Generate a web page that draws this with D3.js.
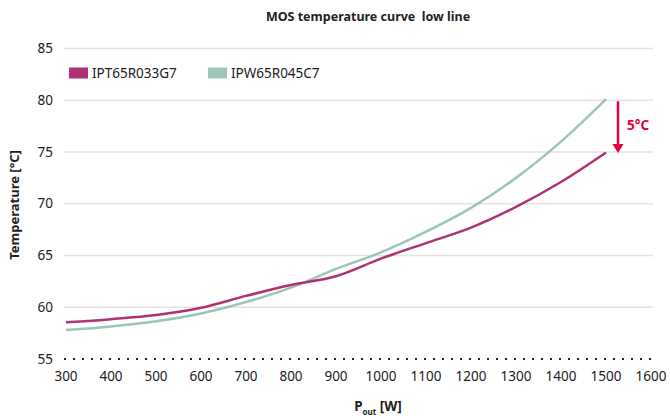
<!DOCTYPE html>
<html>
<head>
<meta charset="utf-8">
<script src="https://cdn.jsdelivr.net/npm/d3@7"></script>
<style>
  body { margin: 0; background: #fff; }
  text { font-family: "Noto Sans", sans-serif; fill: #222; }
</style>
</head>
<body>
<div class="chart"></div>
<script>
// values
const power = [300, 400, 500, 600, 700, 800, 900, 1000, 1100, 1200, 1300, 1400, 1500];
const ipt65r033g7 = [58.55, 58.85, 59.25, 59.95, 61.1, 62.15, 63.0, 64.7, 66.2, 67.7, 69.7, 72.1, 74.95];
const ipw65r045c7 = [57.8, 58.15, 58.65, 59.4, 60.5, 61.9, 63.7, 65.3, 67.3, 69.6, 72.5, 76.0, 80.1];
const seriesNames = ["IPT65R033G7", "IPW65R045C7"];
const xTicks = [300, 400, 500, 600, 700, 800, 900, 1000, 1100, 1200, 1300, 1400, 1500, 1600];
const yTicks = [55, 60, 65, 70, 75, 80, 85];

const width = 670;
const height = 416;
const colors = ["#ae3274", "#9dc5b8"];

const x = d3.scaleLinear().domain([300, 1600]).range([66, 651]);
const y = d3.scaleLinear().domain([55, 85]).range([359, 48.5]);

const svg = d3.select(".chart")
  .append("svg")
  .attr("width", width)
  .attr("height", height);

// title
svg.append("text")
  .attr("x", 368)
  .attr("y", 21)
  .attr("text-anchor", "middle")
  .style("font-size", "12.5px")
  .style("font-weight", "bold")
  .style("white-space", "pre")
  .text("MOS temperature curve  low line");

// grid lines
svg.selectAll(".grid")
  .data(yTicks.filter(d => d > 55))
  .enter()
  .append("line")
  .attr("x1", 64)
  .attr("x2", 653)
  .attr("y1", d => y(d))
  .attr("y2", d => y(d))
  .attr("stroke", "#e7e1e3")
  .attr("stroke-width", 1.5);

// dotted base line
svg.append("line")
  .attr("x1", 64)
  .attr("x2", 653)
  .attr("y1", y(55))
  .attr("y2", y(55))
  .attr("stroke", "#222")
  .attr("stroke-width", 2)
  .attr("stroke-dasharray", "2,7");

// y tick labels
svg.selectAll(".ylab")
  .data(yTicks)
  .enter()
  .append("text")
  .attr("x", 53)
  .attr("y", d => y(d) + 4.5)
  .attr("text-anchor", "end")
  .style("font-size", "13.5px")
  .text(d => d);

// x tick labels
svg.selectAll(".xlab")
  .data(xTicks)
  .enter()
  .append("text")
  .attr("x", d => x(d))
  .attr("y", 381)
  .attr("text-anchor", "middle")
  .style("font-size", "13.5px")
  .text(d => d);

// axis titles
svg.append("text")
  .attr("transform", "translate(19,205) rotate(-90)")
  .attr("text-anchor", "middle")
  .style("font-size", "13px")
  .style("font-weight", "bold")
  .text("Temperature [°C]");

const xt = svg.append("text")
  .attr("x", 378)
  .attr("y", 411)
  .attr("text-anchor", "middle")
  .style("font-size", "13.5px")
  .style("font-weight", "bold");
xt.append("tspan").text("P");
xt.append("tspan").attr("dy", 4).style("font-size", "8px").text("out");
xt.append("tspan").attr("dy", -4).text(" [W]");

// lines
const line = d3.line()
  .x(d => x(d[0]))
  .y(d => y(d[1]))
  .curve(d3.curveCatmullRom);

[ipw65r045c7, ipt65r033g7].forEach((vals, i) => {
  svg.append("path")
    .datum(power.map((p, j) => [p, vals[j]]))
    .attr("d", line)
    .attr("fill", "none")
    .attr("stroke", i === 0 ? colors[1] : colors[0])
    .attr("stroke-width", 2.5);
});

// legend
const legendX = [69, 208];
seriesNames.forEach((name, i) => {
  svg.append("rect")
    .attr("x", legendX[i])
    .attr("y", 67.5)
    .attr("width", 19)
    .attr("height", 11)
    .attr("fill", colors[i]);
  svg.append("text")
    .attr("x", legendX[i] + 23)
    .attr("y", 78)
    .style("font-size", "13.5px")
    .text(name);
});

// 5°C difference arrow
const ax = x(1500) + 12;
const last = power.length - 1;
const red = "#e4003b";
svg.append("line")
  .attr("x1", ax)
  .attr("x2", ax)
  .attr("y1", y(ipw65r045c7[last]) + 2)
  .attr("y2", y(ipt65r033g7[last]) - 8)
  .attr("stroke", red)
  .attr("stroke-width", 2.5);
const tipY = y(ipt65r033g7[last]) + 0.5;
svg.append("path")
  .attr("d", `M${ax - 5.5},${tipY - 9}L${ax + 5.5},${tipY - 9}L${ax},${tipY}Z`)
  .attr("fill", red);
svg.append("text")
  .attr("x", ax + 9)
  .attr("y", 130)
  .style("font-size", "13.5px")
  .style("font-weight", "bold")
  .style("fill", red)
  .text("5°C");
</script>
</body>
</html>
